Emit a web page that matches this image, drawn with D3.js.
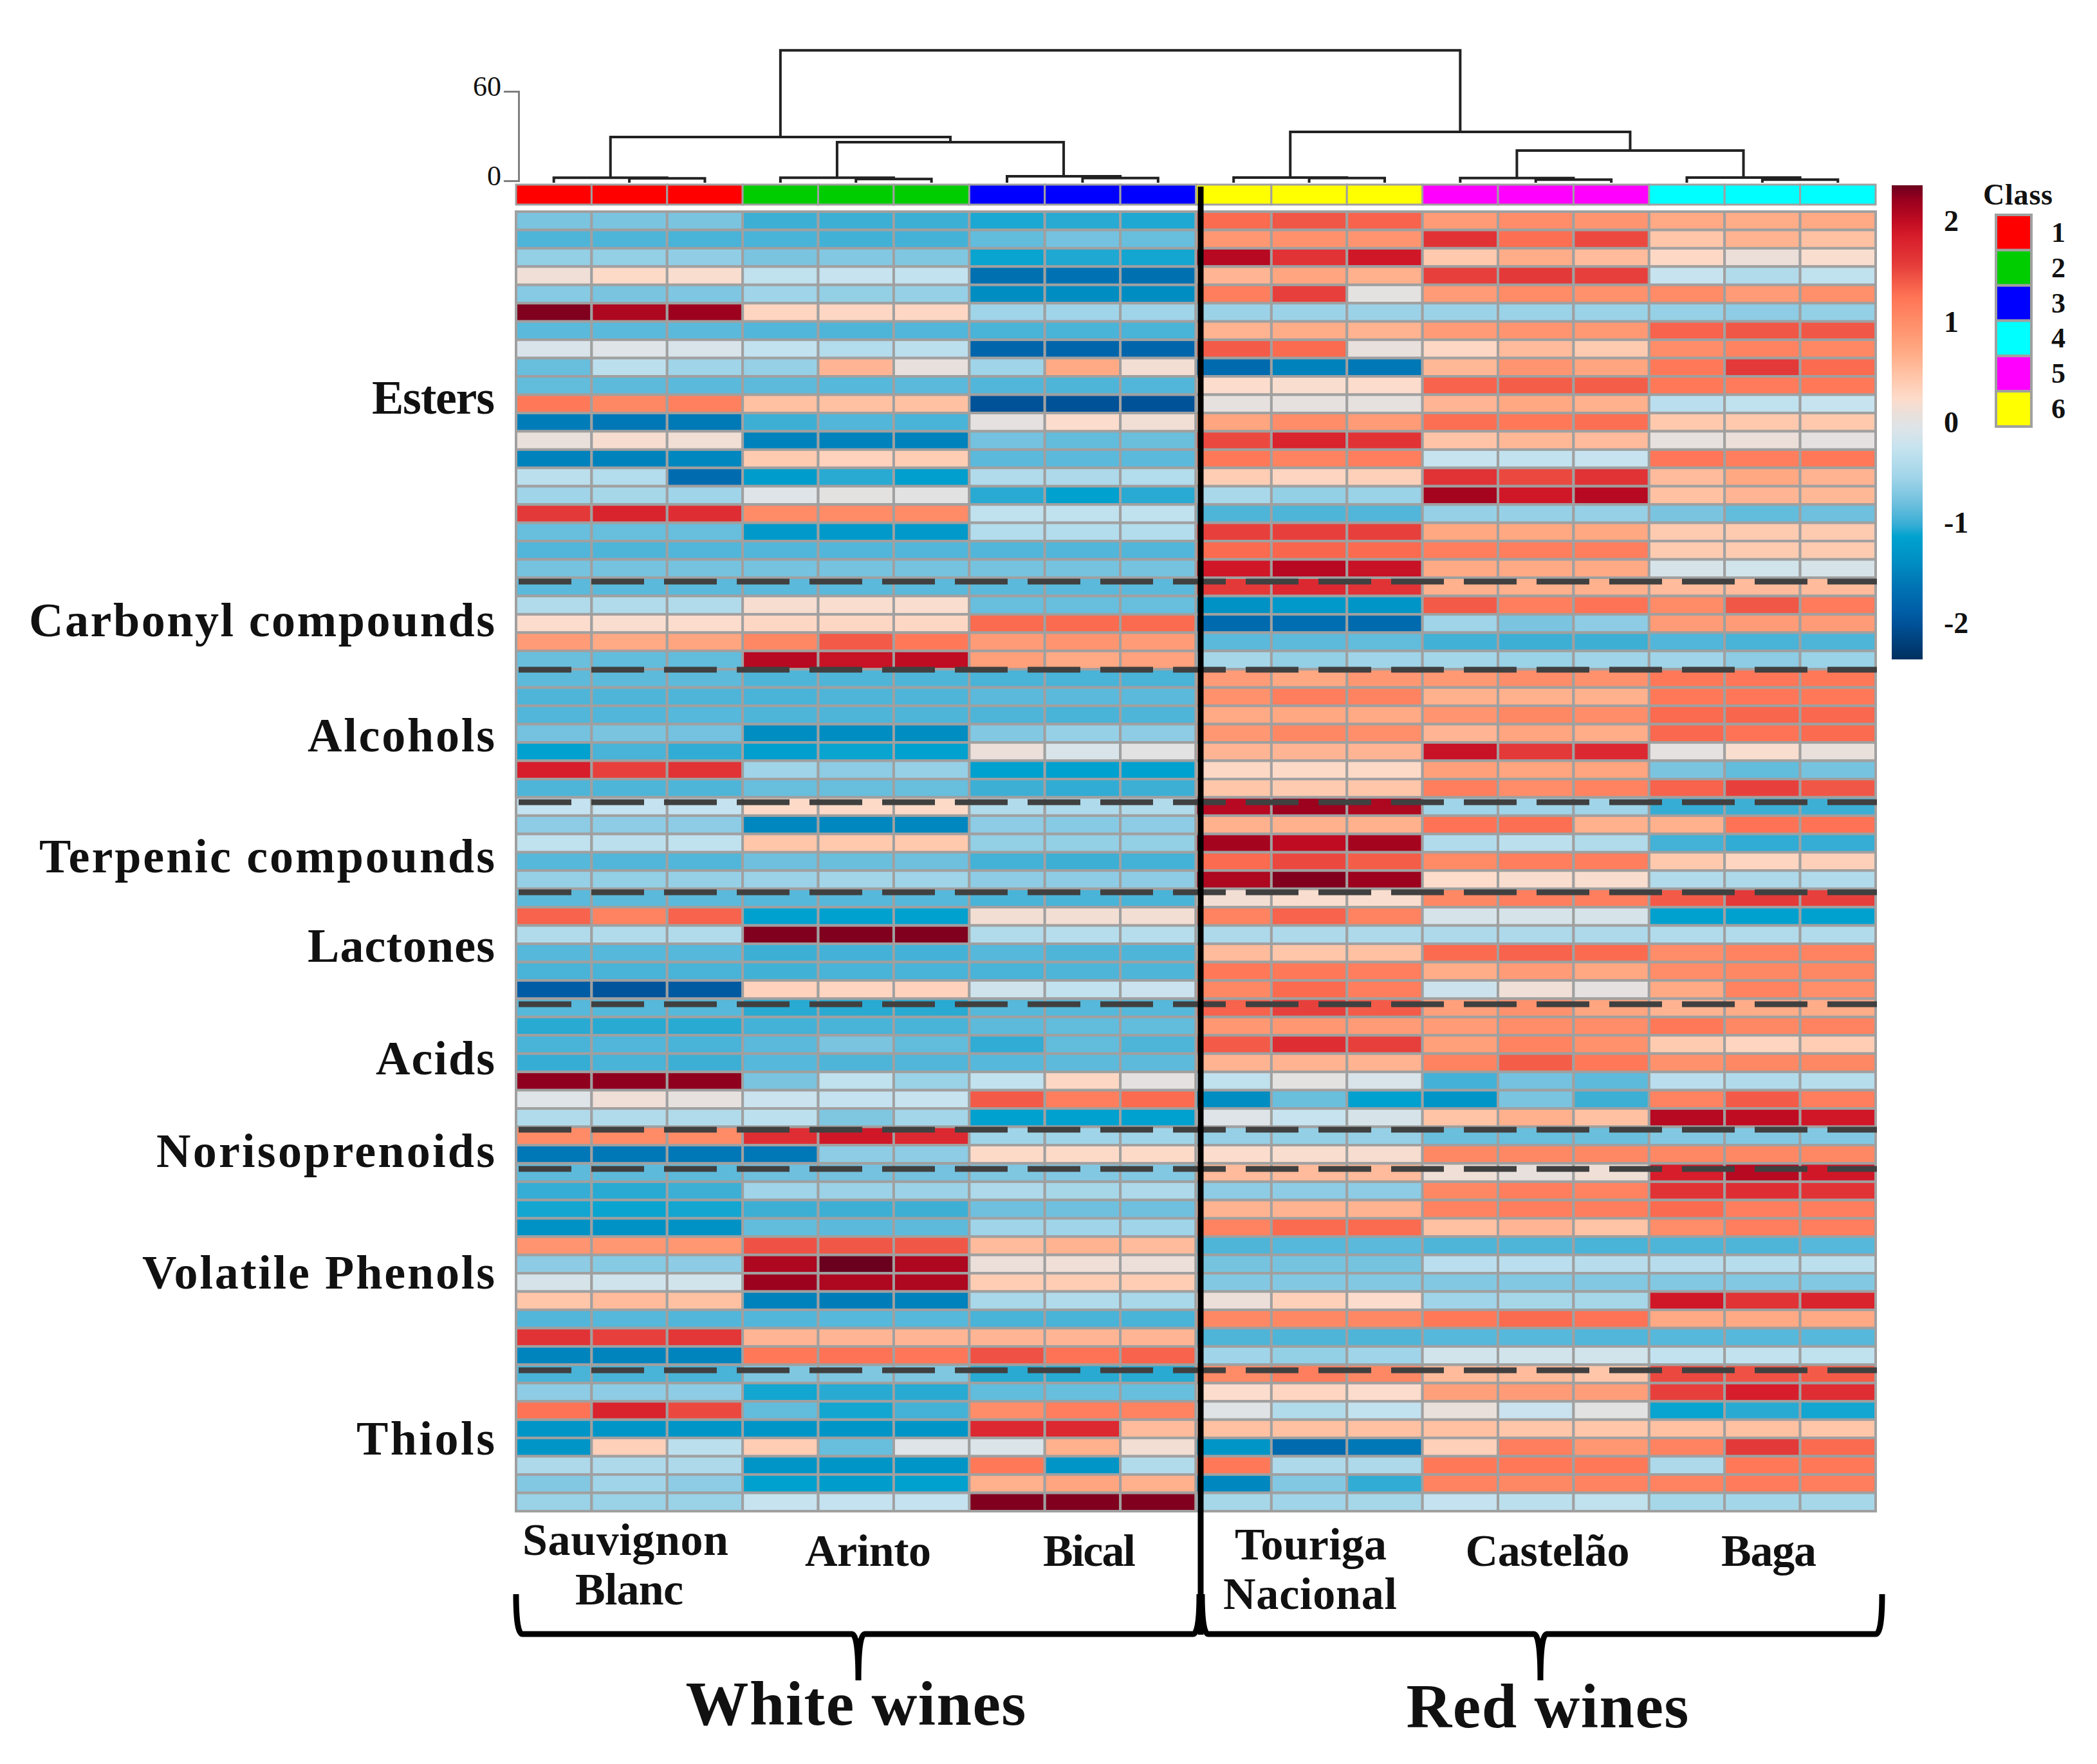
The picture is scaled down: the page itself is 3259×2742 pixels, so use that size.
<!DOCTYPE html>
<meta charset="utf-8">
<style>
body { margin: 0; background: #fff; }
text { font-family: "Liberation Serif", serif; font-weight: bold; fill: #111; }
</style>
<svg id="chart" width="3259" height="2742"></svg>
<script src="https://cdn.jsdelivr.net/npm/d3@7"></script>
<script>

// z-scores per compound, 18 samples: SB x3, Arinto x3, Bical x3, Touriga x3, Castelao x3, Baga x3
var esters = [
  [-0.75,-0.75,-0.75,-1.0,-1.0,-1.0,-1.08,-1.05,-1.07,1.3,1.42,1.35,0.85,1.0,0.92,0.7,0.68,0.7],
  [-0.93,-0.93,-0.95,-0.95,-0.98,-0.97,-0.85,-0.78,-0.83,0.9,0.95,0.92,1.65,1.28,1.5,0.45,0.62,0.5],
  [-0.62,-0.62,-0.63,-0.75,-0.7,-0.72,-1.12,-1.07,-1.1,2.05,1.65,1.9,0.42,0.68,0.55,0.27,0.1,0.2],
  [0.12,0.25,0.2,-0.3,-0.25,-0.28,-1.68,-1.65,-1.68,0.6,0.75,0.65,1.55,1.6,1.55,-0.25,-0.42,-0.3],
  [-0.68,-0.75,-0.73,-0.55,-0.62,-0.6,-1.4,-1.4,-1.4,1.15,1.55,0.02,0.85,1.02,0.95,1.02,0.85,0.97],
  [2.3,2.1,2.2,0.3,0.28,0.28,-0.55,-0.55,-0.55,-0.57,-0.57,-0.57,-0.57,-0.58,-0.58,-0.6,-0.65,-0.62],
  [-0.88,-0.88,-0.88,-0.92,-0.93,-0.92,-0.95,-0.95,-0.95,0.62,0.68,0.62,0.85,0.92,0.87,1.35,1.42,1.42],
  [-0.1,-0.05,-0.1,-0.28,-0.4,-0.33,-1.8,-1.8,-1.8,1.4,1.3,0.07,0.28,0.55,0.4,1.0,1.1,1.05],
  [-0.83,-0.33,-0.55,-0.6,0.6,0.07,-0.55,0.7,0.15,-1.75,-1.5,-1.6,0.58,0.92,0.75,1.2,1.6,1.3],
  [-0.85,-0.87,-0.88,-0.87,-0.9,-0.88,-0.92,-0.93,-0.92,0.22,0.2,0.22,1.35,1.38,1.38,1.2,1.18,1.2],
  [1.2,1.05,1.13,0.5,0.5,0.5,-2.0,-2.0,-2.0,0.05,0.05,0.05,0.6,0.72,0.65,-0.35,-0.3,-0.25],
  [-1.55,-1.6,-1.58,-1.0,-0.92,-0.95,0.03,0.22,0.14,0.75,1.0,0.85,1.28,1.2,1.28,0.42,0.42,0.42],
  [0.08,0.18,0.14,-1.5,-1.5,-1.5,-0.78,-0.85,-0.82,1.5,1.8,1.65,0.47,0.58,0.55,0.05,0.1,0.03],
  [-1.5,-1.5,-1.45,0.4,0.33,0.38,-0.88,-0.88,-0.88,1.2,1.1,1.15,-0.25,-0.28,-0.25,1.22,1.15,1.2],
  [-0.33,-0.4,-1.72,-1.2,-1.05,-1.18,-0.42,-0.45,-0.4,0.38,0.3,0.35,1.65,1.5,1.65,0.55,0.72,0.62],
  [-0.55,-0.5,-0.55,-0.05,0.02,0,-1.05,-1.15,-1.05,-0.48,-0.62,-0.58,2.15,1.9,2.05,0.5,0.6,0.58],
  [1.6,1.8,1.7,1.02,1.02,1.02,-0.3,-0.3,-0.3,-0.93,-0.93,-0.92,-0.6,-0.6,-0.6,-0.75,-0.85,-0.8],
  [-0.83,-0.83,-0.83,-1.25,-1.25,-1.25,-0.4,-0.4,-0.4,1.55,1.55,1.55,0.72,0.72,0.72,0.4,0.4,0.4],
  [-0.92,-0.93,-0.92,-0.92,-0.92,-0.92,-0.92,-0.92,-0.92,1.3,1.33,1.3,1.15,1.15,1.15,0.4,0.4,0.4],
  [-0.77,-0.77,-0.77,-0.77,-0.77,-0.77,-0.77,-0.77,-0.77,1.9,2.05,1.95,0.7,0.7,0.7,-0.12,-0.15,-0.12]
];
var carbonyls = [
  [-0.88,-0.88,-0.88,-0.88,-0.88,-0.88,-0.88,-0.88,-0.88,1.6,1.75,1.65,0.65,0.65,0.65,0.55,0.55,0.55],
  [-0.42,-0.42,-0.42,0.18,0.2,0.2,-0.83,-0.83,-0.83,-1.35,-1.25,-1.3,1.4,1.15,1.25,1.02,1.42,1.18],
  [0.22,0.2,0.22,0.28,0.28,0.28,1.3,1.3,1.3,-1.75,-1.7,-1.75,-0.55,-0.75,-0.65,0.85,0.85,0.85],
  [0.85,0.7,0.75,1.05,1.4,1.2,0.85,0.92,0.85,-0.88,-0.87,-0.85,-0.98,-1.0,-1.0,-0.92,-0.95,-0.93],
  [-0.82,-0.85,-0.85,2.05,1.95,2.0,0.8,0.7,0.78,-0.5,-0.62,-0.55,-0.52,-0.58,-0.55,-0.55,-0.65,-0.58]
];
var alcohols = [
  [-0.87,-0.87,-0.87,-0.93,-0.93,-0.93,-0.95,-0.95,-0.95,0.85,0.72,0.9,0.88,1.0,0.95,1.2,1.22,1.2],
  [-0.93,-0.93,-0.93,-0.95,-0.93,-0.93,-0.88,-0.88,-0.88,0.95,1.15,1.1,0.65,0.65,0.65,1.2,1.22,1.2],
  [-0.92,-0.92,-0.9,-0.93,-0.93,-0.93,-0.93,-0.95,-0.93,0.7,0.72,0.7,0.92,1.05,1.0,1.3,1.33,1.32],
  [-0.78,-0.75,-0.78,-1.4,-1.4,-1.4,-0.7,-0.6,-0.65,0.9,1.05,0.98,0.6,0.75,0.68,1.32,1.25,1.3],
  [-1.15,-0.95,-1.03,-1.18,-1.12,-1.15,0.1,-0.1,0,0.6,0.6,0.6,1.95,1.6,1.75,0.03,0.2,0.08],
  [1.85,1.55,1.65,-0.55,-0.65,-0.6,-1.15,-1.15,-1.15,0.27,0.25,0.25,0.8,0.75,0.75,-0.75,-0.85,-0.77],
  [-0.93,-0.93,-0.93,-0.83,-0.83,-0.83,-1.0,-1.03,-1.0,0.45,0.4,0.45,1.15,1.0,1.1,1.35,1.55,1.42]
];
var terpenics = [
  [-0.27,-0.27,-0.27,0.25,0.25,0.25,-0.42,-0.43,-0.42,2.05,2.2,2.1,-0.55,-0.55,-0.55,-1.02,-1.0,-1.0],
  [-0.65,-0.65,-0.65,-1.45,-1.45,-1.45,-0.65,-0.68,-0.65,0.65,0.65,0.65,1.25,1.28,0.65,0.65,1.25,1.25],
  [-0.3,-0.33,-0.3,0.45,0.42,0.42,-0.62,-0.62,-0.62,2.15,2.0,2.15,-0.42,-0.33,-0.42,-0.97,-1.03,-1.02],
  [-0.9,-0.92,-0.92,-0.8,-0.82,-0.8,-0.97,-1.0,-0.97,1.3,1.5,1.38,1.03,1.15,1.15,0.42,0.3,0.35],
  [-0.6,-0.62,-0.6,-0.57,-0.53,-0.55,-0.65,-0.65,-0.65,2.1,2.3,2.2,0.23,0.2,0.2,-0.42,-0.45,-0.42]
];
var lactones = [
  [-0.88,-0.88,-0.88,-0.9,-0.9,-0.9,-0.95,-0.95,-0.95,0.15,0.2,0.2,1.05,1.15,1.15,1.4,1.6,1.55],
  [1.35,1.1,1.35,-1.15,-1.15,-1.15,0.15,0.15,0.15,1.1,1.35,1.1,-0.12,-0.12,-0.12,-1.15,-1.15,-1.15],
  [-0.42,-0.42,-0.42,2.3,2.3,2.3,-0.42,-0.38,-0.38,-0.45,-0.45,-0.45,-0.45,-0.45,-0.45,-0.42,-0.42,-0.42],
  [-0.9,-0.9,-0.9,-1.0,-0.97,-0.97,-0.9,-0.93,-0.93,0.55,0.45,0.5,1.3,1.35,1.3,1.0,1.1,1.1],
  [-0.95,-0.95,-0.95,-0.98,-0.95,-0.95,-0.95,-0.93,-0.93,1.2,1.2,1.15,0.68,0.85,0.72,1.0,1.05,1.05],
  [-1.9,-1.98,-1.92,0.33,0.3,0.33,-0.18,-0.28,-0.22,1.05,1.3,1.15,-0.2,0.12,0.03,0.7,1.1,0.98]
];
var acids = [
  [-0.9,-0.9,-0.9,-1.05,-1.05,-1.05,-0.9,-0.9,-0.9,1.35,1.55,1.4,0.8,0.95,0.75,0.62,0.68,0.68],
  [-1.05,-1.05,-1.05,-0.97,-0.95,-0.95,-0.87,-0.85,-0.85,0.9,0.9,0.85,0.85,1.0,1.0,1.2,1.05,1.1],
  [-0.95,-0.92,-0.95,-0.88,-0.75,-0.85,-1.03,-0.85,-0.93,1.4,1.7,1.55,0.8,1.1,0.95,0.4,0.3,0.38],
  [-1.02,-0.95,-1.0,-0.9,-0.93,-0.92,-0.9,-0.87,-0.87,0.62,0.62,0.62,1.1,1.38,1.2,0.95,1.05,1.05],
  [2.25,2.25,2.25,-0.75,-0.3,-0.58,-0.28,0.28,0.03,-0.3,0.02,-0.1,-0.97,-0.78,-0.87,-0.35,-0.42,-0.38],
  [-0.05,0.12,0.05,-0.22,-0.27,-0.25,1.4,1.15,1.3,-1.4,-0.82,-1.15,-1.3,-0.75,-1.0,1.1,1.4,1.15],
  [-0.42,-0.42,-0.42,-0.32,-0.72,-0.52,-1.15,-1.15,-1.15,-0.05,-0.25,-0.12,0.48,0.65,0.5,2.05,2.0,1.9]
];
var norisoprenoids = [
  [1.02,1.02,1.02,1.7,1.9,1.75,-0.55,-0.55,-0.55,-0.6,-0.62,-0.6,-0.82,-0.83,-0.82,-0.7,-0.7,-0.7],
  [-1.6,-1.6,-1.6,-1.6,-0.65,-0.65,0.25,0.25,0.25,0.22,0.2,0.18,1.05,1.05,1.05,1.05,1.05,1.05]
];
var phenols = [
  [-0.87,-0.87,-0.87,-0.8,-0.78,-0.78,-0.72,-0.7,-0.7,0.55,0.55,0.55,0.12,0.07,0.12,1.85,2.05,1.9],
  [-1.02,-1.05,-1.0,-0.55,-0.57,-0.57,-0.45,-0.5,-0.45,-0.65,-0.65,-0.65,1.05,1.15,1.1,1.65,1.7,1.65],
  [-1.1,-1.12,-1.1,-1.0,-1.0,-1.0,-0.8,-0.8,-0.8,0.62,0.62,0.62,1.1,1.15,1.15,1.3,1.15,1.15],
  [-1.35,-1.35,-1.35,-0.85,-0.88,-0.87,-0.55,-0.55,-0.55,1.1,1.3,1.3,0.5,0.6,0.48,1.0,1.15,1.15],
  [0.92,0.9,0.9,1.45,1.42,1.42,0.55,0.62,0.55,-0.93,-0.9,-0.88,-0.93,-0.93,-0.95,-0.93,-0.93,-0.9],
  [-0.65,-0.68,-0.65,2.1,2.4,2.1,0.1,0.12,0.1,-0.77,-0.77,-0.77,-0.35,-0.35,-0.37,-0.37,-0.38,-0.33],
  [-0.12,-0.18,-0.15,2.2,2.1,2.1,0.38,0.38,0.38,-0.7,-0.7,-0.7,-0.7,-0.7,-0.7,-0.7,-0.7,-0.7],
  [0.45,0.55,0.5,-1.5,-1.55,-1.5,-0.48,-0.42,-0.48,0.1,0.35,0.22,-0.55,-0.5,-0.5,1.9,1.65,1.8],
  [-0.92,-0.9,-0.92,-0.92,-0.9,-0.9,-0.95,-0.95,-0.95,1.05,1.05,1.05,1.2,1.3,1.25,0.7,0.7,0.7],
  [1.65,1.55,1.62,0.6,0.6,0.6,0.6,0.6,0.6,-0.93,-0.93,-0.93,-0.9,-0.9,-0.92,-0.9,-0.9,-0.9],
  [-1.48,-1.48,-1.48,1.2,1.25,1.22,1.45,1.25,1.35,-0.55,-0.62,-0.55,-0.15,-0.15,-0.15,-0.28,-0.28,-0.3]
];
var thiols = [
  [-0.95,-0.95,-0.95,-0.72,-0.72,-0.72,-1.05,-1.05,-1.05,1.02,1.15,1.05,0.55,0.55,0.45,1.5,1.45,1.4],
  [-0.65,-0.65,-0.65,-1.1,-1.05,-1.05,-0.85,-0.83,-0.83,0.22,0.3,0.22,0.8,0.85,0.82,1.55,1.85,1.7],
  [1.25,1.8,1.5,-0.85,-1.1,-0.97,1.0,1.15,1.1,-0.03,-0.42,-0.28,0.08,-0.22,0.0,-1.12,-1.05,-1.1],
  [-1.3,-1.3,-1.3,-1.3,-1.3,-1.3,1.75,1.75,0.55,0.5,0.5,0.5,0.5,0.45,0.45,0.5,0.5,0.45],
  [-1.3,0.35,-0.33,0.38,-0.83,-0.05,-0.08,0.65,0.15,-1.3,-1.75,-1.6,0.35,1.15,0.9,1.1,1.6,1.3],
  [-0.45,-0.45,-0.45,-1.3,-1.3,-1.3,1.2,-1.3,-0.42,1.2,-0.45,-0.45,1.2,1.2,1.2,-0.45,1.2,1.2],
  [-0.7,-0.55,-0.65,-1.15,-1.2,-1.15,0.65,0.75,0.65,-1.45,-0.7,-1.03,1.1,1.05,1.1,1.1,1.18,1.15],
  [-0.58,-0.58,-0.58,-0.25,-0.27,-0.27,2.3,2.3,2.3,-0.5,-0.55,-0.5,-0.27,-0.33,-0.3,-0.5,-0.52,-0.5]
];

var groupNames = ["Esters","Carbonyl compounds","Alcohols","Terpenic compounds","Lactones","Acids","Norisoprenoids","Volatile Phenols","Thiols"];
var sampleClass = [1,1,1,2,2,2,3,3,3,6,6,6,5,5,5,4,4,4];
var classes = [1,2,3,4,5,6];
var classColors = ["#ff0000","#00cd00","#0000ff","#00ffff","#ff00ff","#ffff00"];
var heightTicks = [0,60];
var scaleTicks = [2,1,0,-1,-2];
var colorStops = [-2.36,-2.03,-1.86,-1.63,-1.37,-1.14,-1.01,-0.78,-0.55,-0.26,-0.06,0.07,0.23,0.46,0.72,1.03,1.24,1.37,1.57,1.86,2.0,2.22,2.37];
var colorValues = ["#00305f","#004f95","#0060a8","#0074b4","#0090c4","#00a2cf","#3aaed5","#74c2df","#a0d4e8","#c5e3ef","#dde4e8","#e8e0dc","#fddccb","#ffc5a8","#ffa882","#ff8a66","#ff7556","#f5604a","#e53c3a","#d61c2a","#c00c22","#98001e","#6b001e"];

// dendrogram, leaves are sample indexes, h is the merge height
var tree = {h:87.5, kids:[
  {h:29.3, kids:[
    {h:2.0, kids:[0,{h:1.6, kids:[1,2]}]},
    {h:25.9, kids:[
      {h:2.0, kids:[3,{h:1.2, kids:[4,5]}]},
      {h:3.0, kids:[6,{h:1.8, kids:[7,8]}]}
    ]}
  ]},
  {h:32.8, kids:[
    {h:2.2, kids:[9,{h:1.8, kids:[10,11]}]},
    {h:20.3, kids:[
      {h:1.8, kids:[12,{h:0.8, kids:[13,14]}]},
      {h:2.2, kids:[15,{h:0.8, kids:[16,17]}]}
    ]}
  ]}
]};

// break positions in row units (dashed lines sit a bit under the row edge)
var rowBreaks = [20.21,25.03,32.27,37.19,43.3,50.16,52.3,63.3];

var groupRows = [esters,carbonyls,alcohols,terpenics,lactones,acids,norisoprenoids,phenols,thiols];
var rows = d3.merge(groupRows);

var left = 802, right = 2915, top0 = 329, bottom0 = 2349, gridCol = "#a0a0a0";
var svg = d3.select("#chart");

var x = d3.scaleBand().domain(d3.range(18)).range([left, right]);
var y = d3.scaleBand().domain(d3.range(rows.length)).range([top0, bottom0]);
var yBreak = d3.scaleLinear().domain([0, rows.length]).range([top0, bottom0]);
var color = d3.scaleLinear().domain(colorStops).range(colorValues).clamp(true);
var hScale = d3.scaleLinear().domain([0, 60]).range([281, 142]);

// heat cells
svg.append("g").selectAll("g").data(rows).join("g")
  .selectAll("rect").data(function(d, i) { return d.map(function(v, j) { return {v: v, i: i, j: j}; }); })
  .join("rect")
  .attr("x", function(d) { return x(d.j); })
  .attr("y", function(d) { return y(d.i); })
  .attr("width", x.bandwidth())
  .attr("height", y.bandwidth())
  .attr("fill", function(d) { return color(d.v); })
  .attr("stroke", gridCol)
  .attr("stroke-width", 4);

// class strip above the heat map
svg.append("g").selectAll("rect").data(sampleClass).join("rect")
  .attr("x", function(d, i) { return x(i); })
  .attr("y", 287)
  .attr("width", x.bandwidth())
  .attr("height", 31)
  .attr("fill", function(d) { return classColors[classes.indexOf(d)]; })
  .attr("stroke", gridCol)
  .attr("stroke-width", 3);

// dendrogram
var treeG = svg.append("g").attr("fill", "none").attr("stroke", "#222").attr("stroke-width", 4);
function drawNode(n) {
  if (typeof n === "number") return {x: x(n) + x.bandwidth() / 2, y: 284};
  var a = drawNode(n.kids[0]), b = drawNode(n.kids[1]), yy = hScale(n.h);
  var p = d3.path();
  p.moveTo(a.x, a.y); p.lineTo(a.x, yy); p.lineTo(b.x, yy); p.lineTo(b.x, b.y);
  treeG.append("path").attr("d", p.toString());
  return {x: (a.x + b.x) / 2, y: yy};
}
drawNode(tree);

// height axis of the dendrogram
var hAxis = svg.append("g").attr("transform", "translate(806,0)")
  .call(d3.axisLeft(hScale).tickValues(heightTicks).tickSize(23).tickPadding(4));
hAxis.selectAll("path,line").attr("stroke", "#808080").attr("stroke-width", 3);
hAxis.selectAll("text").attr("font-size", 44).style("font-weight", "normal").attr("dy", "0.15em");

// section separators
svg.append("g").selectAll("line").data(rowBreaks).join("line")
  .attr("x1", 806).attr("x2", 2917)
  .attr("y1", function(d) { return yBreak(d); })
  .attr("y2", function(d) { return yBreak(d); })
  .attr("stroke", "#404040").attr("stroke-width", 9)
  .attr("stroke-dasharray", "82 31");

// white / red divider
svg.append("line").attr("x1", 1866).attr("x2", 1866).attr("y1", 290).attr("y2", 2541)
  .attr("stroke", "#000").attr("stroke-width", 9);

// compound class labels
var groupLabelY = [619,965,1144,1332,1471,1646,1790,1979,2237];
var groupLabelW = [191,724,291,708,291,185,526,548,215];
svg.append("g").selectAll("text").data(groupNames).join("text")
  .attr("x", 769)
  .attr("y", function(d, i) { return groupLabelY[i]; })
  .attr("dy", "0.33em")
  .attr("text-anchor", "end")
  .attr("font-size", 74)
  .attr("textLength", function(d, i) { return groupLabelW[i]; })
  .text(function(d) { return d; });

// wine labels under the map
var wineLabels = [["Sauvignon",972,2394,320],["Blanc",978,2471,168],["Arinto",1349,2411,196],["Bical",1693,2411,144],
  ["Touriga",2037,2401,236],["Nacional",2036,2478,270],["Castelão",2405,2411,255],["Baga",2749,2411,148]];
svg.append("g").selectAll("text").data(wineLabels).join("text")
  .attr("x", function(d) { return d[1]; })
  .attr("y", function(d) { return d[2]; })
  .attr("dy", "0.33em")
  .attr("text-anchor", "middle")
  .attr("font-size", 70)
  .attr("textLength", function(d) { return d[3]; })
  .text(function(d) { return d[0]; });

// braces
function brace(x0, x1, xm) {
  var p = d3.path(), yb = 2540, top = 2478, tip = 2612;
  p.moveTo(x0, top); p.quadraticCurveTo(x0, yb, x0 + 10, yb);
  p.lineTo(xm - 10, yb); p.quadraticCurveTo(xm, yb, xm, tip);
  p.quadraticCurveTo(xm, yb, xm + 10, yb);
  p.lineTo(x1 - 10, yb); p.quadraticCurveTo(x1, yb, x1, top);
  return p.toString();
}
svg.append("g").attr("fill", "none").attr("stroke", "#000").attr("stroke-width", 9)
  .selectAll("path").data([[802,1864,1334],[1868,2925,2394]]).join("path")
  .attr("d", function(d) { return brace(d[0], d[1], d[2]); });

svg.append("text").attr("x", 1330).attr("y", 2649).attr("dy", "0.33em").attr("text-anchor", "middle")
  .attr("font-size", 98).attr("textLength", 529).text("White wines");
svg.append("text").attr("x", 2405).attr("y", 2653).attr("dy", "0.33em").attr("text-anchor", "middle")
  .attr("font-size", 98).attr("textLength", 439).text("Red wines");

// colour bar
var barScale = d3.scaleLinear().domain([2.36, -2.36]).range([288, 1025]);
var grad = svg.append("defs").append("linearGradient").attr("id", "bar")
  .attr("x1", 0).attr("x2", 0).attr("y1", 1).attr("y2", 0);
grad.selectAll("stop").data(colorStops).join("stop")
  .attr("offset", function(d) { return (d + 2.36) / 4.72; })
  .attr("stop-color", function(d, i) { return colorValues[i]; });
svg.append("rect").attr("x", 2940).attr("y", 288).attr("width", 48).attr("height", 737).attr("fill", "url(#bar)");
var barAxis = svg.append("g").attr("transform", "translate(3021,0)")
  .call(d3.axisRight(barScale).tickValues(scaleTicks).tickSize(0).tickPadding(0).tickFormat(String));
barAxis.select(".domain").remove();
barAxis.selectAll("text").attr("font-size", 46).style("font-weight", "bold");

// class legend
var legY = d3.scaleBand().domain(classes).range([334, 663]);
svg.append("text").attr("x", 3136).attr("y", 303).attr("dy", "0.33em").attr("text-anchor", "middle")
  .attr("font-size", 46).attr("textLength", 108).text("Class");
svg.append("g").selectAll("rect").data(classes).join("rect")
  .attr("x", 3102).attr("y", function(d) { return legY(d); })
  .attr("width", 55).attr("height", legY.bandwidth())
  .attr("fill", function(d, i) { return classColors[i]; })
  .attr("stroke", gridCol).attr("stroke-width", 4);
svg.append("g").selectAll("text").data(classes).join("text")
  .attr("x", 3188).attr("y", function(d) { return legY(d) + legY.bandwidth() / 2; })
  .attr("dy", "0.33em").attr("font-size", 44).text(function(d) { return d; });

</script>
